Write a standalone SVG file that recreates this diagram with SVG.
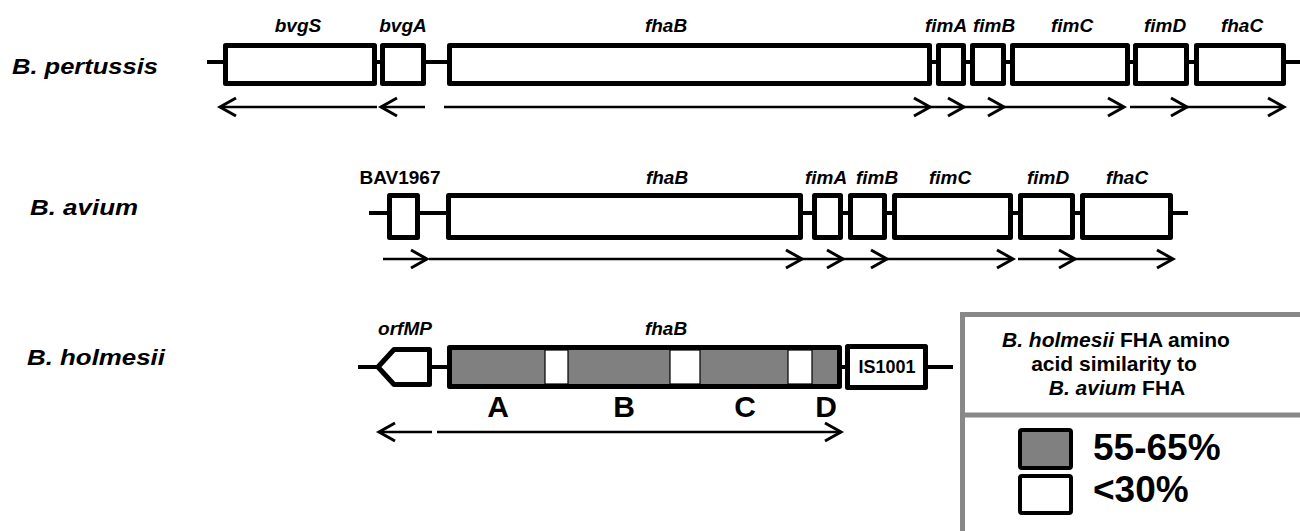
<svg xmlns="http://www.w3.org/2000/svg" width="1300" height="531" viewBox="0 0 1300 531">
<style>
.bb{stroke:#000;stroke-width:4;fill:none}
.gene{fill:#fff;stroke:#000;stroke-width:5;stroke-linejoin:round}
.gray{fill:#808080}
.seg{fill:#fff;stroke:#000;stroke-width:1.2}
.ar{stroke:#000;stroke-width:2.6;fill:none}
.hd{stroke:#000;stroke-width:3;fill:none;stroke-linejoin:miter}
.sp{font-family:"Liberation Sans",Arial,sans-serif;font-weight:bold;font-style:italic;font-size:22px}
.gl{font-family:"Liberation Sans",Arial,sans-serif;font-weight:bold;font-style:italic;font-size:19px;text-anchor:middle}
.bl{font-family:"Liberation Sans",Arial,sans-serif;font-weight:bold;font-size:19px;text-anchor:middle}
.big{font-family:"Liberation Sans",Arial,sans-serif;font-weight:bold;font-size:30px;text-anchor:middle}
.lg{font-family:"Liberation Sans",Arial,sans-serif;font-weight:bold;font-size:21px;text-anchor:middle}
.pc{font-family:"Liberation Sans",Arial,sans-serif;font-weight:bold;font-size:37px}
.lgl{stroke:#888;stroke-width:5;fill:none}
.sq{stroke:#000;stroke-width:4}
</style>

<!-- species labels -->
<text class="sp" x="12" y="74" textLength="146" lengthAdjust="spacingAndGlyphs">B. pertussis</text>
<text class="sp" x="30" y="215" textLength="108" lengthAdjust="spacingAndGlyphs">B. avium</text>
<text class="sp" x="27" y="365" textLength="138" lengthAdjust="spacingAndGlyphs">B. holmesii</text>

<!-- backbones -->
<g id="backbones">
<line class="bb" x1="207" y1="62" x2="1300" y2="62"/>
<line class="bb" x1="369" y1="213" x2="1188" y2="213"/>
<line class="bb" x1="358" y1="367" x2="953" y2="367"/>
</g>

<!-- Row 1: B. pertussis -->
<g id="pert-bvgS"><rect class="gene" x="225.5" y="45.5" width="149" height="38"/><text class="gl" x="298" y="32">bvgS</text></g>
<g id="pert-bvgA"><rect class="gene" x="382.5" y="45.5" width="41" height="38"/><text class="gl" x="403" y="32">bvgA</text></g>
<g id="pert-fhaB"><rect class="gene" x="449.5" y="45.5" width="480" height="38"/><text class="gl" x="666" y="32">fhaB</text></g>
<g id="pert-fimA"><rect class="gene" x="938.5" y="45.5" width="25" height="38"/><text class="gl" x="946" y="32">fimA</text></g>
<g id="pert-fimB"><rect class="gene" x="972.5" y="45.5" width="31" height="38"/><text class="gl" x="994" y="32">fimB</text></g>
<g id="pert-fimC"><rect class="gene" x="1012.5" y="45.5" width="115" height="38"/><text class="gl" x="1072" y="32">fimC</text></g>
<g id="pert-fimD"><rect class="gene" x="1135.5" y="45.5" width="51" height="38"/><text class="gl" x="1165" y="32">fimD</text></g>
<g id="pert-fhaC"><rect class="gene" x="1196.5" y="45.5" width="87" height="38"/><text class="gl" x="1242" y="32">fhaC</text></g>

<!-- Row 2: B. avium -->
<g id="av-BAV1967"><rect class="gene" x="389.5" y="195.5" width="28" height="42"/><text class="bl" x="400" y="184">BAV1967</text></g>
<g id="av-fhaB"><rect class="gene" x="448.5" y="195.5" width="352" height="42"/><text class="gl" x="667" y="184">fhaB</text></g>
<g id="av-fimA"><rect class="gene" x="814.5" y="195.5" width="26" height="42"/><text class="gl" x="826" y="184">fimA</text></g>
<g id="av-fimB"><rect class="gene" x="850.5" y="195.5" width="34" height="42"/><text class="gl" x="877" y="184">fimB</text></g>
<g id="av-fimC"><rect class="gene" x="894.5" y="195.5" width="116" height="42"/><text class="gl" x="950" y="184">fimC</text></g>
<g id="av-fimD"><rect class="gene" x="1020.5" y="195.5" width="52" height="42"/><text class="gl" x="1048" y="184">fimD</text></g>
<g id="av-fhaC"><rect class="gene" x="1082.5" y="195.5" width="88" height="42"/><text class="gl" x="1127" y="184">fhaC</text></g>

<!-- Row 3: B. holmesii -->
<g id="ho-orfMP"><polygon class="gene" points="378,367 394,349.5 429.5,349.5 429.5,384.5 394,384.5"/><text class="gl" x="405" y="335">orfMP</text></g>
<g id="ho-fhaB">
<rect class="gene gray" x="449.5" y="347.5" width="390" height="39" style="fill:#808080"/>
<rect class="seg" x="545" y="350" width="23" height="34"/>
<rect class="seg" x="670" y="350" width="30" height="34"/>
<rect class="seg" x="788" y="350" width="24" height="34"/>
<text class="gl" x="666" y="335">fhaB</text>
<text class="big" x="498" y="417">A</text>
<text class="big" x="624" y="417">B</text>
<text class="big" x="745" y="417">C</text>
<text class="big" x="826" y="417">D</text>
</g>
<g id="ho-IS1001"><rect class="gene" x="847.5" y="346.5" width="78" height="41"/><text class="bl" x="887" y="373" style="font-size:18px">IS1001</text></g>

<!-- connectors: transcription arrows -->
<g id="arrows">
<line class="ar" x1="220" y1="107" x2="377" y2="107"/><polyline class="hd" points="236,98 220,107 236,116"/>
<line class="ar" x1="381" y1="107" x2="425" y2="107"/><polyline class="hd" points="397,98 381,107 397,116"/>
<line class="ar" x1="444" y1="107" x2="929" y2="107"/><polyline class="hd" points="914,98 930,107 914,116"/>
<line class="ar" x1="930" y1="107" x2="963" y2="107"/><polyline class="hd" points="948,98 964,107 948,116"/>
<line class="ar" x1="964" y1="107" x2="1003" y2="107"/><polyline class="hd" points="988,98 1004,107 988,116"/>
<line class="ar" x1="1004" y1="107" x2="1123" y2="107"/><polyline class="hd" points="1108,98 1124,107 1108,116"/>
<line class="ar" x1="1130" y1="107" x2="1186" y2="107"/><polyline class="hd" points="1171,98 1187,107 1171,116"/>
<line class="ar" x1="1187" y1="107" x2="1283" y2="107"/><polyline class="hd" points="1268,98 1284,107 1268,116"/>

<line class="ar" x1="383" y1="259" x2="426" y2="259"/><polyline class="hd" points="411,250 427,259 411,268"/>
<line class="ar" x1="429" y1="259" x2="801" y2="259"/><polyline class="hd" points="786,250 802,259 786,268"/>
<line class="ar" x1="802" y1="259" x2="842" y2="259"/><polyline class="hd" points="827,250 843,259 827,268"/>
<line class="ar" x1="843" y1="259" x2="886" y2="259"/><polyline class="hd" points="871,250 887,259 871,268"/>
<line class="ar" x1="887" y1="259" x2="1012" y2="259"/><polyline class="hd" points="997,250 1013,259 997,268"/>
<line class="ar" x1="1018" y1="259" x2="1074" y2="259"/><polyline class="hd" points="1059,250 1075,259 1059,268"/>
<line class="ar" x1="1075" y1="259" x2="1172" y2="259"/><polyline class="hd" points="1157,250 1173,259 1157,268"/>

<line class="ar" x1="379" y1="432" x2="432" y2="432"/><polyline class="hd" points="395,423 379,432 395,441"/>
<line class="ar" x1="437" y1="432" x2="840" y2="432"/><polyline class="hd" points="825,423 841,432 825,441"/>
</g>

<!-- legend -->
<g id="legend">
<polyline class="lgl" points="962.5,531 962.5,314.5 1300,314.5"/>
<line class="lgl" x1="962" y1="415" x2="1300" y2="415"/>
<text class="lg" x="1116" y="347"><tspan font-style="italic">B. holmesii</tspan> FHA amino</text>
<text class="lg" x="1114" y="371">acid similarity to</text>
<text class="lg" x="1117" y="395"><tspan font-style="italic">B. avium</tspan> FHA</text>
<rect class="sq" x="1020" y="430" width="51" height="38" rx="2" fill="#808080"/>
<rect class="sq" x="1020" y="476" width="51" height="37" rx="2" fill="#fff"/>
<text class="pc" x="1093" y="460">55-65%</text>
<text class="pc" x="1093" y="502">&lt;30%</text>
</g>
</svg>
